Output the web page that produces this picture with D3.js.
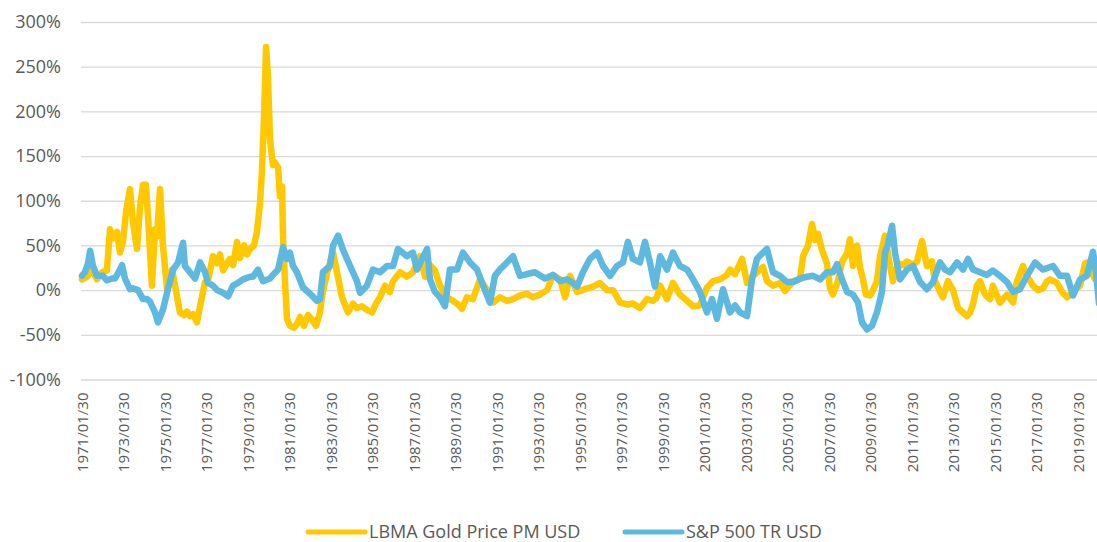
<!DOCTYPE html>
<html lang="en">
<head>
<meta charset="UTF-8"/>
<title>Gold vs S&amp;P 500</title>
<script src="https://d3js.org/d3.v7.min.js"></script>
<style>
    body { margin: 0; background: #fff; }
    svg { display: block; }
    text { font-family: "Open Sans", sans-serif; fill: #595959; }
</style>
</head>
<body>
<script>
    // 12-month returns (year as decimal, value as fraction)
    var goldYears = [1971.00,1971.24,1971.48,1971.72,1971.96,1972.20,1972.35,1972.49,1972.69,1972.83,1972.98,
        1973.12,1973.31,1973.46,1973.65,1973.80,1973.94,1974.08,1974.18,1974.37,1974.52,1974.61,1974.76,1974.90,
        1975.10,1975.34,1975.58,1975.72,1975.92,1976.06,1976.20,1976.35,1976.54,1976.69,1976.93,1977.07,1977.31,
        1977.51,1977.65,1977.80,1977.99,1978.13,1978.28,1978.47,1978.61,1978.81,1978.95,1979.10,1979.29,1979.43,
        1979.58,1979.67,1979.77,1979.87,1979.96,1980.06,1980.20,1980.30,1980.45,1980.54,1980.64,1980.69,1980.78,
        1980.88,1981.02,1981.22,1981.36,1981.51,1981.70,1981.89,1982.08,1982.28,1982.47,1982.57,1982.81,1983.10,
        1983.29,1983.53,1983.82,1984.06,1984.25,1984.49,1984.73,1984.98,1985.17,1985.36,1985.60,1985.84,1985.99,
        1986.33,1986.66,1986.95,1987.29,1987.53,1987.77,1988.01,1988.25,1988.59,1988.88,1989.12,1989.31,1989.55,
        1989.84,1990.18,1990.52,1990.81,1991.14,1991.48,1991.77,1992.11,1992.45,1992.73,1993.07,1993.41,1993.70,
        1994.04,1994.28,1994.52,1994.86,1995.34,1995.63,1995.96,1996.30,1996.59,1996.93,1997.27,1997.55,1997.89,
        1998.23,1998.52,1998.71,1998.86,1999.19,1999.48,1999.82,2000.16,2000.45,2000.78,2001.12,2001.41,2001.75,
        2002.08,2002.23,2002.47,2002.81,2003.05,2003.29,2003.53,2003.82,2004.01,2004.30,2004.64,2004.88,2005.27,
        2005.60,2005.75,2005.99,2006.18,2006.33,2006.47,2006.66,2006.90,2007.05,2007.19,2007.43,2007.63,2007.87,
        2008.01,2008.16,2008.35,2008.49,2008.64,2008.78,2008.98,2009.12,2009.31,2009.46,2009.70,2009.94,2010.08,
        2010.33,2010.57,2010.76,2011.05,2011.24,2011.48,2011.72,2011.96,2012.11,2012.35,2012.49,2012.73,2012.98,
        2013.22,2013.46,2013.65,2013.80,2013.94,2014.13,2014.28,2014.52,2014.76,2014.90,2015.24,2015.58,2015.87,
        2016.06,2016.20,2016.35,2016.54,2016.83,2017.07,2017.31,2017.51,2017.65,2017.99,2018.23,2018.47,2018.61,
        2018.86,2019.10,2019.34,2019.48,2019.58,2019.82,2020.01];
    var goldVals = [0.12,0.15,0.23,0.12,0.20,0.22,0.68,0.58,0.65,0.42,0.55,
        0.87,1.13,0.75,0.46,0.94,1.18,1.18,0.83,0.05,0.68,0.60,1.13,0.50,
        0.01,0.23,-0.07,-0.25,-0.28,-0.24,-0.29,-0.27,-0.36,-0.18,0.09,0.10,0.38,
        0.30,0.40,0.22,0.30,0.35,0.28,0.54,0.36,0.50,0.40,0.46,0.50,0.65,
        0.98,1.32,1.91,2.72,2.40,1.69,1.40,1.43,1.37,1.05,1.16,0.57,0.10,
        -0.32,-0.40,-0.42,-0.38,-0.30,-0.40,-0.28,-0.33,-0.40,-0.25,-0.07,0.20,0.42,
        0.20,-0.08,-0.25,-0.15,-0.20,-0.18,-0.22,-0.25,-0.15,-0.08,0.05,-0.02,0.10,
        0.20,0.15,0.20,0.38,0.15,0.28,0.22,0.05,-0.08,-0.12,-0.16,-0.21,-0.08,
        -0.10,0.12,0.00,-0.14,-0.08,-0.12,-0.10,-0.06,-0.04,-0.08,-0.05,0.00,0.17,
        0.12,-0.08,0.16,-0.02,0.02,0.04,0.08,0.00,0.00,-0.14,-0.16,-0.15,-0.20,
        -0.10,-0.12,-0.08,0.05,-0.10,0.08,-0.05,-0.12,-0.18,-0.17,0.03,0.10,0.12,
        0.17,0.23,0.18,0.35,0.08,0.15,0.20,0.26,0.10,0.05,0.08,-0.01,0.10,
        0.12,0.38,0.50,0.74,0.56,0.63,0.45,0.30,0.02,-0.05,0.10,0.32,0.41,
        0.57,0.27,0.50,0.26,0.12,-0.05,-0.06,0.00,0.10,0.38,0.61,0.27,0.10,
        0.30,0.28,0.32,0.28,0.32,0.55,0.27,0.32,0.10,-0.02,-0.08,0.10,0.00,
        -0.20,-0.25,-0.29,-0.25,-0.16,0.05,0.10,-0.05,-0.10,0.05,-0.14,-0.05,-0.14,
        0.10,0.18,0.27,0.16,0.05,0.00,0.02,0.10,0.12,0.08,-0.02,-0.08,-0.05,
        0.00,0.05,0.30,0.31,0.23,0.12,0.10];

    var spYears = [1971.00,1971.14,1971.29,1971.39,1971.53,1971.72,1972.01,1972.20,1972.45,1972.59,1972.83,
        1972.93,1973.07,1973.31,1973.46,1973.70,1973.94,1974.13,1974.28,1974.52,1974.66,1974.90,1975.14,1975.39,
        1975.63,1975.87,1975.96,1976.20,1976.45,1976.69,1976.93,1977.07,1977.31,1977.51,1977.80,1978.04,1978.28,
        1978.52,1978.76,1979.10,1979.24,1979.48,1979.72,1980.06,1980.20,1980.45,1980.69,1980.88,1981.02,1981.17,
        1981.36,1981.65,1981.99,1982.33,1982.47,1982.61,1982.95,1983.10,1983.34,1983.58,1983.92,1984.25,1984.40,
        1984.73,1985.02,1985.36,1985.70,1985.99,1986.23,1986.66,1986.95,1987.14,1987.39,1987.63,1987.77,1988.01,
        1988.25,1988.49,1988.73,1989.07,1989.36,1989.70,1990.04,1990.33,1990.66,1990.90,1991.14,1991.48,1991.77,
        1992.11,1992.45,1992.83,1993.31,1993.70,1994.04,1994.37,1994.66,1994.86,1995.14,1995.48,1995.82,1996.11,
        1996.45,1996.78,1997.07,1997.31,1997.55,1997.89,1998.13,1998.37,1998.61,1998.86,1999.19,1999.48,1999.82,
        2000.16,2000.45,2000.78,2001.12,2001.36,2001.60,2001.89,2002.23,2002.47,2002.71,2003.05,2003.29,2003.53,
        2003.82,2004.01,2004.30,2004.64,2004.98,2005.27,2005.60,2005.94,2006.23,2006.57,2006.90,2007.19,2007.39,
        2007.63,2007.87,2008.16,2008.40,2008.59,2008.83,2009.07,2009.31,2009.55,2009.70,2009.84,2010.04,2010.18,
        2010.42,2010.76,2011.05,2011.39,2011.72,2012.01,2012.35,2012.59,2012.83,2013.17,2013.46,2013.70,2013.94,
        2014.28,2014.61,2014.90,2015.24,2015.58,2015.87,2016.20,2016.54,2016.93,2017.31,2017.80,2018.13,2018.47,
        2018.76,2019.10,2019.43,2019.72,2019.87,2020.01];
    var spVals = [0.16,0.20,0.30,0.44,0.27,0.16,0.16,0.11,0.13,0.13,0.23,
        0.28,0.13,0.01,0.02,0.00,-0.10,-0.10,-0.13,-0.25,-0.36,-0.22,0.01,0.23,
        0.31,0.53,0.27,0.20,0.13,0.31,0.20,0.08,0.05,0.00,-0.03,-0.07,0.05,
        0.08,0.12,0.15,0.15,0.23,0.10,0.13,0.17,0.23,0.48,0.35,0.42,0.27,
        0.20,0.03,-0.04,-0.12,-0.10,0.20,0.27,0.50,0.61,0.45,0.27,0.10,-0.03,
        0.05,0.23,0.20,0.27,0.27,0.46,0.38,0.42,0.23,0.35,0.46,0.12,-0.02,
        -0.08,-0.18,0.23,0.23,0.42,0.31,0.23,0.05,-0.14,0.16,0.23,0.31,0.38,
        0.16,0.18,0.20,0.13,0.17,0.10,0.12,0.08,0.04,0.20,0.35,0.42,0.27,
        0.16,0.27,0.31,0.54,0.35,0.31,0.54,0.31,0.04,0.38,0.23,0.42,0.27,
        0.23,0.12,-0.02,-0.25,-0.10,-0.32,0.01,-0.25,-0.17,-0.25,-0.29,0.12,0.35,
        0.42,0.46,0.20,0.16,0.09,0.09,0.13,0.15,0.16,0.12,0.20,0.20,0.29,
        0.12,-0.02,-0.05,-0.14,-0.36,-0.44,-0.40,-0.25,-0.02,0.42,0.51,0.72,0.42,
        0.12,0.23,0.27,0.09,0.01,0.09,0.31,0.23,0.20,0.31,0.23,0.35,0.23,
        0.20,0.17,0.22,0.16,0.09,-0.02,0.01,0.16,0.31,0.23,0.27,0.16,0.16,
        -0.06,0.12,0.16,0.43,0.20,-0.15];

    var yTicks = [-1, -0.5, 0, 0.5, 1, 1.5, 2, 2.5, 3];
    var xTickYears = d3.range(1971, 2020, 2);
    var seriesNames = ["LBMA Gold Price PM USD", "S&P 500 TR USD"];
    var seriesColors = ["#FFC800", "#5DB9DF"];

    var w = 1097, h = 542;
    var plotLeft = 82, plotTop = 22, plotBottom = 379.5;

    var svg = d3.select("body").append("svg")
        .attr("width", w)
        .attr("height", h);

    var xScale = d3.scaleLinear()
        .domain([1971, 2020])
        .range([plotLeft, plotLeft + 49 * 20.75]);

    var yScale = d3.scaleLinear()
        .domain([-1, 3])
        .range([plotBottom, plotTop]);

    // gridlines + y labels (plain hyphen for negatives, like the original)
    var yAxis = d3.axisLeft(yScale)
        .tickValues(yTicks)
        .tickSize(-(w - plotLeft + 1))
        .tickPadding(20)
        .tickFormat(function(d) { return Math.round(d * 100) + "%"; });

    var gy = svg.append("g")
        .attr("transform", "translate(" + (plotLeft - 1) + ",0)")
        .call(yAxis);
    gy.select(".domain").remove();
    gy.selectAll("line").attr("stroke", "#D9D9D9").attr("stroke-width", 1.3);
    gy.selectAll("text")
        .style("font-size", "18px")
        .attr("fill", "#595959");

    // x labels, rotated
    var xAxis = d3.axisBottom(xScale)
        .tickValues(xTickYears)
        .tickSize(0)
        .tickFormat(function(d) { return d + "/01/30"; });

    var gx = svg.append("g")
        .attr("transform", "translate(0," + plotBottom + ")")
        .call(xAxis);
    gx.select(".domain").remove();
    gx.selectAll("text")
        .style("font-size", "15px")
        .attr("fill", "#595959")
        .attr("text-anchor", "end")
        .attr("transform", "rotate(-90)")
        .attr("x", -13)
        .attr("y", 0)
        .attr("dy", "0.35em");

    var line = d3.line()
        .x(function(d) { return xScale(d[0]); })
        .y(function(d) { return yScale(d[1]); });

    var goldData = d3.zip(goldYears, goldVals);
    var spData = d3.zip(spYears, spVals);

    [goldData, spData].forEach(function(data, i) {
        svg.append("path")
            .datum(data)
            .attr("fill", "none")
            .attr("stroke", seriesColors[i])
            .attr("stroke-width", 6.5)
            .attr("stroke-linejoin", "round")
            .attr("stroke-linecap", "round")
            .attr("d", line);
    });

    // legend
    var legendX = [308, 625];
    var legend = svg.selectAll(".legend")
        .data(seriesNames)
        .enter()
        .append("g")
        .attr("class", "legend")
        .attr("transform", function(d, i) { return "translate(" + legendX[i] + ",532)"; });

    legend.append("line")
        .attr("x1", 0).attr("x2", 57)
        .attr("stroke", function(d, i) { return seriesColors[i]; })
        .attr("stroke-width", 5)
        .attr("stroke-linecap", "round");

    legend.append("text")
        .attr("x", 61)
        .attr("dy", "0.35em")
        .style("font-size", "18px")
        .text(function(d) { return d; });
</script>
</body>
</html>
